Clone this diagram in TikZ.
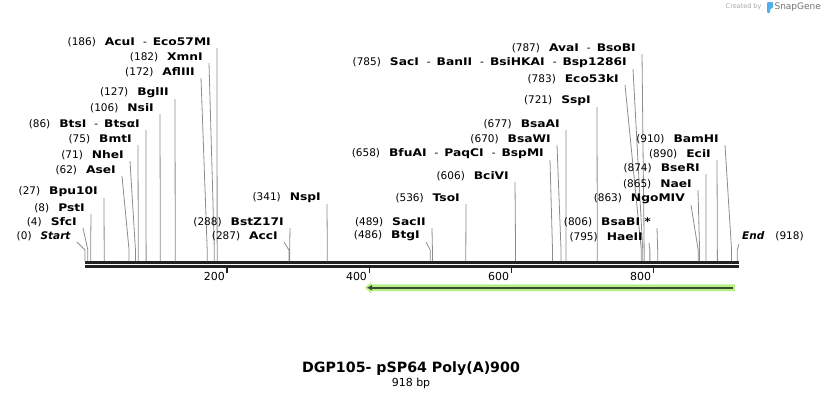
\documentclass[tikz,border=0pt]{standalone}
\usepackage{fontspec}
\setmainfont{DejaVu Sans}[BoldFeatures={FakeStretch=1.17}]
\newfontfamily\titlefont{DejaVu Sans Bold}
\usetikzlibrary{arrows.meta}
\usetikzlibrary{positioning}

\definecolor{barcol}{RGB}{34,34,34}
\definecolor{leadcol}{RGB}{140,140,140}
\definecolor{featfill}{RGB}{184,240,136}
\definecolor{featline}{RGB}{58,74,48}
\definecolor{logocol}{RGB}{80,175,235}

\tikzstyle{cutlabel} = [inner sep=0pt, anchor=east, font=\fontsize{10.5}{12}\selectfont]
\tikzstyle{leader} = [draw=leadcol, line width=0.8pt]
\tikzstyle{seqline} = [draw=barcol, line width=2.7pt]
\tikzstyle{tick} = [draw=barcol, line width=1.4pt]
\tikzstyle{ticklabel} = [inner sep=0pt, anchor=east, font=\fontsize{11}{12}\selectfont]

\newcommand{\cutsep}{\hspace{8pt}-\hspace{6pt}}
% #1 position (bp), #2 x of leader top, #3 y of label, #4 enzyme names
\newcommand{\cutsite}[4]{%
  \coordinate (c#1) at ({85+0.7105*#1},261);
  \coordinate (b#1) at ({85+0.7105*#1},250);
  \coordinate (t#1) at (#2,#3+6);
  \node [cutlabel] (l#1) at (#2-6,#3) {(#1)\hspace{9pt}#4};
  \path [leader] (t#1) -- (b#1) -- (c#1);}

\begin{document}
\begin{tikzpicture}[x=1pt, y=-1pt]
  \useasboundingbox (0,0) rectangle (824,400);

  % Sequence
  \path [seqline] (85,262.3) -- (739,262.3);
  \path [seqline] (85,266.7) -- (739,266.7);
  \foreach \bp in {200,400,600,800} {
    \coordinate (k\bp) at ({85+0.7105*\bp},267);
    \path [tick] (k\bp) -- ++(0,6);
    \node [ticklabel] at ([xshift=-2pt,yshift=-9pt]k\bp) {\bp};
  }

  % Feature
  \coordinate (fa) at (735,287.7);
  \coordinate (fb) at (365,287.7);
  \fill [featfill] (fb) -- (371,282.2) -- (371,284.4) -- (735,284.4)
    -- (735,291) -- (371,291) -- (371,293.2) -- cycle;
  \draw [featline, line width=2pt, -{Latex[length=5pt,width=6pt]}]
    ([xshift=-2pt]fa) -- ([xshift=2pt]fb);

  % Left group
  \cutsite{186}{217}{42}{\textbf{AcuI}\cutsep\textbf{Eco57MI}}
  \cutsite{182}{209}{57}{\textbf{XmnI}}
  \cutsite{172}{201}{72}{\textbf{AflIII}}
  \cutsite{127}{175}{93}{\textbf{BglII}}
  \cutsite{106}{160}{108}{\textbf{NsiI}}
  \cutsite{86}{146}{124}{\textbf{BtsI}\cutsep\textbf{BtsαI}}
  \cutsite{75}{138}{139}{\textbf{BmtI}}
  \cutsite{71}{130}{155}{\textbf{NheI}}
  \cutsite{62}{122}{170}{\textbf{AseI}}
  \cutsite{27}{104}{192}{\textbf{Bpu10I}}
  \cutsite{8}{91}{208}{\textbf{PstI}}
  \cutsite{4}{83}{222}{\textbf{SfcI}}
  \cutsite{0}{77}{236}{\textbf{\textit{Start}}}

  % Middle group
  \cutsite{288}{290}{222}{\textbf{BstZ17I}}
  \cutsite{287}{284}{236}{\textbf{AccI}}
  \cutsite{341}{327}{198}{\textbf{NspI}}
  \cutsite{536}{466}{198}{\textbf{TsoI}}
  \cutsite{489}{432}{222}{\textbf{SacII}}
  \cutsite{486}{426}{236}{\textbf{BtgI}}
  \cutsite{606}{515}{176}{\textbf{BciVI}}
  \cutsite{658}{550}{154}{\textbf{BfuAI}\cutsep\textbf{PaqCI}\cutsep\textbf{BspMI}}
  \cutsite{670}{557}{139}{\textbf{BsaWI}}
  \cutsite{677}{566}{124}{\textbf{BsaAI}}
  \cutsite{721}{597}{101}{\textbf{SspI}}
  \cutsite{783}{625}{79}{\textbf{Eco53kI}}
  \cutsite{785}{633}{63}{\textbf{SacI}\cutsep\textbf{BanII}\cutsep\textbf{BsiHKAI}\cutsep\textbf{Bsp1286I}}
  \cutsite{787}{642}{48}{\textbf{AvaI}\cutsep\textbf{BsoBI}}

  % Right group
  \cutsite{806}{657}{222}{\textbf{BsaBI *}}
  \cutsite{795}{649}{237}{\textbf{HaeII}}
  \cutsite{863}{691}{199}{\textbf{NgoMIV}}
  \cutsite{865}{698}{184}{\textbf{NaeI}}
  \cutsite{874}{706}{168}{\textbf{BseRI}}
  \cutsite{890}{717}{154}{\textbf{EciI}}
  \cutsite{910}{725}{139}{\textbf{BamHI}}

  \coordinate (c918) at ({85+0.7105*918},261);
  \coordinate (b918) at ({85+0.7105*918},250);
  \coordinate (t918) at (739,244);
  \node [cutlabel, anchor=west] (l918) at (742,236) {\textbf{\textit{End}}\hspace{11pt}(918)};
  \path [leader] (t918) -- (b918) -- (c918);

  % Title
  \node [font=\titlefont\fontsize{14.2}{16}\selectfont] (title) at (411,369) {DGP105- pSP64 Poly(A)900};
  \node [font=\fontsize{11}{12}\selectfont] (size) at (411,383) {918 bp};

  \node [font=\fontsize{6.5}{8}\selectfont, text=black!35, anchor=east] (credit) at (765,7) {Created by};
  \fill [logocol, rounded corners=1pt] (767,2) -- (773,2) -- (773,8) -- (770,9) -- (770,13) -- (767,13) -- cycle;
  \node [font=\fontsize{9}{10}\selectfont, text=black!55, anchor=west] (brand) at (771,7) {SnapGene};
\end{tikzpicture}
\end{document}
